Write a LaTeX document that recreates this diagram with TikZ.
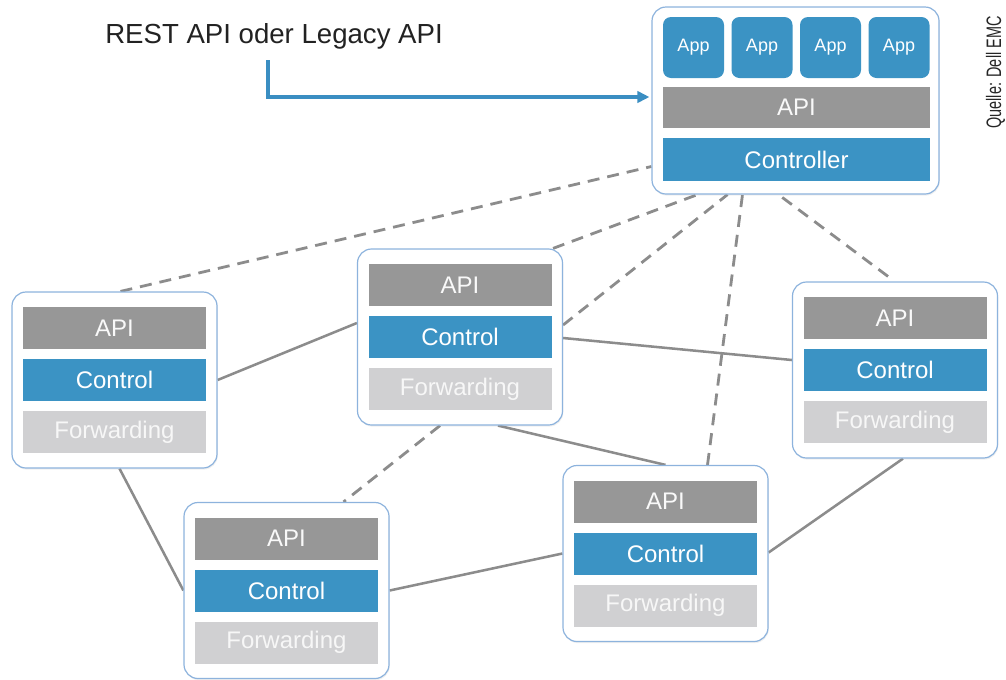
\documentclass[tikz,border=0pt]{standalone}
\usepackage{fontspec}
\setmainfont{Liberation Sans}
\usepackage{graphicx}
\usetikzlibrary{arrows.meta,calc,shadows}
\definecolor{sdnblue}{HTML}{3B93C4}
\definecolor{apigray}{HTML}{979797}
\definecolor{fwdgray}{HTML}{D0D0D2}
\definecolor{boxline}{HTML}{8DB3DD}
\definecolor{linkgray}{HTML}{8C8C8C}
\definecolor{arrowblue}{HTML}{3A8EC2}
\definecolor{labeltext}{HTML}{222222}
\pgfdeclarelayer{bg}
\pgfsetlayers{bg,main}
\tikzset{
  outerbox/.style={draw=boxline, line width=0.9pt, fill=white, rounded corners=10.5pt,
    minimum width=153.75pt, minimum height=132pt, inner sep=0pt,
    drop shadow={opacity=0.12, shadow xshift=0.6pt, shadow yshift=-1.2pt}},
  bar/.style={minimum width=137.25pt, minimum height=31.5pt, inner sep=0pt, text=white,
    font=\fontsize{18}{20}\selectfont},
  apibar/.style={bar, fill=apigray, text=white!95!gray},
  ctlbar/.style={bar, fill=sdnblue},
  fwdbar/.style={bar, fill=fwdgray, text=white!94!gray},
  appbox/.style={fill=sdnblue, rounded corners=6pt, minimum size=45.75pt, inner sep=0pt,
    text=white, font=\fontsize{13.5}{15}\selectfont},
  link/.style={draw=linkgray, line width=1.9pt},
  mgmt/.style={draw=linkgray, line width=2.1pt, dash pattern=on 9pt off 6pt},
  apiarrow/.style={draw=arrowblue, line width=2.3pt, -{Triangle[length=9pt,width=8.5pt]}},
}
\newcommand{\swbox}[3]{%
  \node[outerbox] (#1) at (#2,#3) {};
  \node[apibar] (#1-api) at (#2,#3-52) {API};
  \node[ctlbar] (#1-ctl) at (#2,#3) {Control};
  \node[fwdbar] (#1-fwd) at (#2,#3+52) {Forwarding};
}
\begin{document}
\begin{tikzpicture}[x=0.75pt,y=-0.75pt]
\useasboundingbox (0,0) rectangle (1006,679);

% controller
\node[outerbox, minimum width=215.25pt, minimum height=140.25pt] (ctrl) at (795.5,100.5) {};
\node[appbox] (app1) at (693.5,47.5) {App};
\node[appbox] (app2) at (762,47.5) {App};
\node[appbox] (app3) at (830.5,47.5) {App};
\node[appbox] (app4) at (899,47.5) {App};
\node[bar, fill=apigray, text=white!95!gray, minimum width=200.25pt, minimum height=30.75pt] (capi) at (796.5,107.5) {API};
\node[bar, fill=sdnblue, minimum width=200.25pt, minimum height=32.25pt] (cctl) at (796.5,159.5) {Controller};

% switches
\swbox{s1}{114.5}{380}
\swbox{s2}{460}{337}
\swbox{s3}{895}{370}
\swbox{s4}{286.5}{590.5}
\swbox{s5}{665.5}{553.5}

% label and arrow
\node[anchor=base west, inner sep=0pt, text=labeltext, font=\fontsize{20.7}{23}\selectfont] (restlabel) at (105,43) {REST API oder Legacy API};
\coordinate (reststart) at (268,60);
\draw[apiarrow] (reststart) |- ($(ctrl.west)+(-2,-3.5)$);

% source
\node[rotate=90, inner sep=0pt, text=black!85, font=\fontsize{15.7}{17}\selectfont] (source) at (995.5,72.5) {\scalebox{0.69}[1]{Quelle: Dell EMC}};

\begin{pgfonlayer}{bg}
% data links
\draw[link] (s1.east) -- ($(s2.west)+(0,-14)$);
\draw[link] ($(s1.south)+(5,0)$) -- (s4.west);
\draw[link] ($(s2.east)+(0,1)$) -- ($(s3.west)+(0,-10)$);
\draw[link] ($(s2.south)+(38,0)$) -- (s5.north);
\draw[link] (s4.east) -- (s5.west);
\draw[link] ($(s5.east)+(0,-1)$) -- ($(s3.south)+(8,0)$);
% control links
\draw[mgmt] ($(s1.north)+(6,0)$) -- ($(ctrl.west)+(0,66)$);
\draw[mgmt] ($(s2.north)+(93,0)$) -- ($(ctrl.south)+(-98,0)$);
\draw[mgmt] ($(s2.east)+(0,-12)$) -- ($(ctrl.south)+(-68,0)$);
\draw[mgmt] ($(s5.north)+(42,0)$) -- ($(ctrl.south)+(-53,0)$);
\draw[mgmt] ($(s3.north)+(-7,-5)$) -- ($(ctrl.south)+(-17,0)$);
\draw[mgmt] ($(s2.south)+(-20,0)$) -- ($(s4.north)+(57,0)$);
\end{pgfonlayer}
\end{tikzpicture}
\end{document}
